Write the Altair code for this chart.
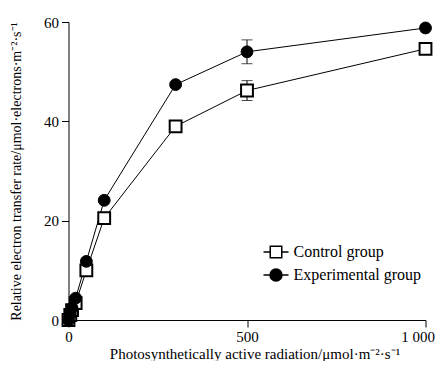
import altair as alt
import pandas as pd

par = [0, 5, 10, 20, 50, 100, 300, 500, 1000]
control = [0, 1.0, 2.0, 3.4, 10.0, 20.5, 39.0, 46.2, 54.6]
control_err = [0, 0, 0, 0, 0, 0, 0, 2.0, 0]
experimental = [0, 1.2, 2.4, 4.4, 11.8, 24.1, 47.4, 54.0, 58.8]
experimental_err = [0, 0, 0, 0, 0, 0, 0, 2.4, 0]
groups = ["Control group", "Experimental group"]

rows = []
for g, vals, errs in [(groups[0], control, control_err), (groups[1], experimental, experimental_err)]:
    for x, v, e in zip(par, vals, errs):
        rows.append({"par": x, "rate": v, "err": e, "lo": v - e, "hi": v + e, "group": g})
df = pd.DataFrame(rows)

FONT = "Liberation Serif"
xs = alt.Scale(domain=[0, 1000], nice=False)
ys = alt.Scale(domain=[0, 60], nice=False)

X = alt.X("par:Q", scale=xs, axis=alt.Axis(
    values=[0, 500, 1000], labelExpr="datum.value == 1000 ? '1 000' : datum.label",
    labelFlush=False, labelPadding=2,
    labelOffset={"condition": {"test": "datum.value == 1000", "value": -8}, "value": 0},
    title="Photosynthetically active radiation/μmol·m⁻²·s⁻¹", titleFontSize=15,
    titleX=186, titleY=41, titleBaseline="bottom", titleAlign="center"))
Y = alt.Y("rate:Q", scale=ys, axis=alt.Axis(
    values=[0, 20, 40, 60], labelFlush=False, labelPadding=3,
    title="Relative electron transfer rate/μmol·electrons·m⁻²·s⁻¹", titleFontSize=14,
    titleX=-52.5, titleY=149, titleAngle=270, titleBaseline="middle", titleAlign="center"))

base = alt.Chart(df)

lines = base.mark_line(color="black", strokeWidth=1).encode(
    x=X, y=Y, detail="group:N")

err_df = base.transform_filter("datum.err > 0")
err_rule = err_df.mark_rule(color="black", strokeWidth=1).encode(
    x="par:Q", y="lo:Q", y2="hi:Q")
cap_lo = err_df.mark_tick(color="black", orient="horizontal", size=11, thickness=1).encode(
    x="par:Q", y="lo:Q")
cap_hi = err_df.mark_tick(color="black", orient="horizontal", size=11, thickness=1).encode(
    x="par:Q", y="hi:Q")

ctrl_pts = base.transform_filter(alt.datum.group == groups[0]).mark_point(
    shape="square", size=140, filled=True, fill="white", stroke="black", strokeWidth=2, opacity=1
).encode(x="par:Q", y="rate:Q")
exp_pts = base.transform_filter(alt.datum.group == groups[1]).mark_point(
    shape="circle", size=140, filled=True, fill="black", stroke="black", strokeWidth=1, opacity=1
).encode(x="par:Q", y="rate:Q")

sq_path = "M-1,0H-0.46M0.46,0H1M-0.46,-0.46H0.46V0.46H-0.46Z"
ci_path = "M-1,0H-0.48M0.48,0H1M0.48,0A0.48,0.48 0 1,1 -0.48,0A0.48,0.48 0 1,1 0.48,0Z"

legend_layer = base.transform_filter("false").mark_point(
    size=625, strokeWidth=1.5, opacity=1, filled=True
).encode(
    x="par:Q", y="rate:Q",
    shape=alt.Shape("group:N", scale=alt.Scale(domain=groups, range=[sq_path, ci_path]),
                    legend=alt.Legend(title=None, orient="none", legendX=194, legendY=216.5,
                                      labelFont=FONT, labelFontSize=16, labelColor="black",
                                      symbolStrokeWidth=1.5,
                                      symbolSize=625, rowPadding=-3.5, padding=0, labelOffset=4)),
    fill=alt.Fill("group:N", scale=alt.Scale(domain=groups, range=["white", "black"]), legend=None),
    stroke=alt.Stroke("group:N", scale=alt.Scale(domain=groups, range=["black", "black"]), legend=None),
)

chart = alt.layer(lines, err_rule, cap_lo, cap_hi, ctrl_pts, exp_pts, legend_layer).properties(
    width=357, height=298,
    autosize=alt.AutoSizeParams(type="none"),
    padding={"left": 60.5, "top": 14, "right": 9.5, "bottom": 41},
).configure_view(stroke=None).configure_axis(
    grid=False, domainColor="black", domainWidth=1, tickColor="black", tickSize=7,
    labelFont=FONT, labelFontSize=15, labelColor="black",
    titleFont=FONT, titleColor="black", titleFontWeight="normal"
)

chart.save("out.html", embed_options={"renderer": "svg", "actions": False})
